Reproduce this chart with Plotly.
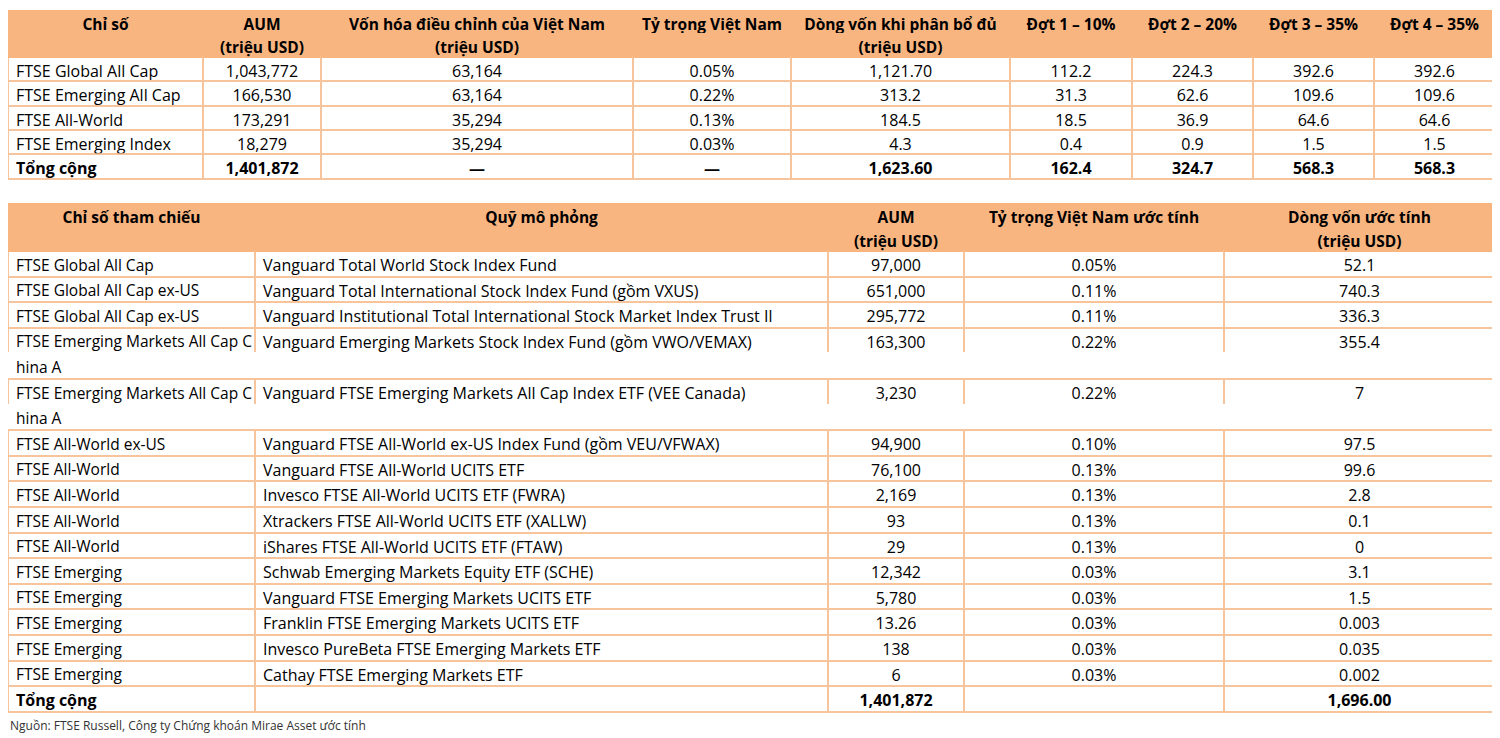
import plotly.graph_objects as go

# --- bảng 1: dòng vốn theo chỉ số (dòng cuối là Tổng cộng) ---
idx_names = ["FTSE Global All Cap", "FTSE Emerging All Cap", "FTSE All-World",
             "FTSE Emerging Index", "Tổng cộng"]
idx_aum = ["1,043,772", "166,530", "173,291", "18,279", "1,401,872"]
idx_mcap = ["63,164", "63,164", "35,294", "35,294", "—"]
idx_weight = ["0.05%", "0.22%", "0.13%", "0.03%", "—"]
idx_full = ["1,121.70", "313.2", "184.5", "4.3", "1,623.60"]
tranche1 = ["112.2", "31.3", "18.5", "0.4", "162.4"]
tranche2 = ["224.3", "62.6", "36.9", "0.9", "324.7"]
tranche3 = ["392.6", "109.6", "64.6", "1.5", "568.3"]
tranche4 = ["392.6", "109.6", "64.6", "1.5", "568.3"]

# tiêu đề 2 dòng: (dòng trên, dòng dưới)
headers1 = [("Chỉ số", ""), ("AUM", "(triệu USD)"),
            ("Vốn hóa điều chỉnh của Việt Nam", "(triệu USD)"),
            ("Tỷ trọng Việt Nam", ""), ("Dòng vốn khi phân bổ đủ", "(triệu USD)"),
            ("Đợt 1 – 10%", ""), ("Đợt 2 – 20%", ""), ("Đợt 3 – 35%", ""), ("Đợt 4 – 35%", "")]

# --- bảng 2: quỹ mô phỏng (ô bị ngắt dòng "C / hina A" tách thành dòng phụ) ---
ref_index = ["FTSE Global All Cap", "FTSE Global All Cap ex-US", "FTSE Global All Cap ex-US",
             "FTSE Emerging Markets All Cap C", "hina A",
             "FTSE Emerging Markets All Cap C", "hina A",
             "FTSE All-World ex-US", "FTSE All-World", "FTSE All-World", "FTSE All-World",
             "FTSE All-World", "FTSE Emerging", "FTSE Emerging", "FTSE Emerging",
             "FTSE Emerging", "FTSE Emerging", "Tổng cộng"]
funds = ["Vanguard Total World Stock Index Fund",
         "Vanguard Total International Stock Index Fund (gồm VXUS)",
         "Vanguard Institutional Total International Stock Market Index Trust II",
         "Vanguard Emerging Markets Stock Index Fund (gồm VWO/VEMAX)", "",
         "Vanguard FTSE Emerging Markets All Cap Index ETF (VEE Canada)", "",
         "Vanguard FTSE All-World ex-US Index Fund (gồm VEU/VFWAX)",
         "Vanguard FTSE All-World UCITS ETF",
         "Invesco FTSE All-World UCITS ETF (FWRA)",
         "Xtrackers FTSE All-World UCITS ETF (XALLW)",
         "iShares FTSE All-World UCITS ETF (FTAW)",
         "Schwab Emerging Markets Equity ETF (SCHE)",
         "Vanguard FTSE Emerging Markets UCITS ETF",
         "Franklin FTSE Emerging Markets UCITS ETF",
         "Invesco PureBeta FTSE Emerging Markets ETF",
         "Cathay FTSE Emerging Markets ETF",
         ""]
fund_aum = ["97,000", "651,000", "295,772", "163,300", "", "3,230", "", "94,900", "76,100",
            "2,169", "93", "29", "12,342", "5,780", "13.26", "138", "6", "1,401,872"]
fund_weight = ["0.05%", "0.11%", "0.11%", "0.22%", "", "0.22%", "", "0.10%", "0.13%", "0.13%",
               "0.13%", "0.13%", "0.03%", "0.03%", "0.03%", "0.03%", "0.03%", ""]
fund_flow = ["52.1", "740.3", "336.3", "355.4", "", "7", "", "97.5", "99.6", "2.8", "0.1", "0",
             "3.1", "1.5", "0.003", "0.035", "0.002", "1,696.00"]

headers2 = [("Chỉ số tham chiếu", ""), ("Quỹ mô phỏng", ""), ("AUM", "(triệu USD)"),
            ("Tỷ trọng Việt Nam ước tính", ""), ("Dòng vốn ước tính", "(triệu USD)")]

# dòng phụ (phần chữ bị ngắt) không có đường kẻ phía trên
continuation_rows = {4, 6}

# trang html có lề 8px quanh hình, nên hình nhỏ hơn cửa sổ 8px mỗi chiều
PAGE_PAD = 8
W, H = 1500 - PAGE_PAD, 738 - PAGE_PAD
HEAD_FILL = "#F9B580"
LINE = "#F7C49C"
FONT = "Open Sans"
NBSP = "\u00a0"
X_DOMAIN = [0, (1495 - PAGE_PAD) / W]


def nowrap(col):
    # plotly tự ngắt dòng ở dấu cách; dùng dấu cách không ngắt để giữ 1 dòng
    return [s.replace(" ", NBSP) for s in col]


def ydom(top_px, bottom_px):
    # toạ độ theo pixel của trang -> phân số của hình
    return [1 - (bottom_px - PAGE_PAD) / H, 1 - (top_px - PAGE_PAD) / H]


def add_table(fig, top, cols, headers, widths, aligns, head_h, row_h, col_sizes,
              line_colors=None):
    body = [c[:-1] for c in cols]
    total = [c[-1:] for c in cols]
    n_body = len(body[0])
    body_end = top + 2 * head_h + n_body * row_h
    fig.add_trace(go.Table(
        domain={"x": X_DOMAIN, "y": ydom(top, body_end + 4)},
        columnwidth=widths,
        header={
            "values": [nowrap(list(h)) for h in headers],
            "fill": {"color": HEAD_FILL},
            "line": {"color": HEAD_FILL, "width": 1},
            "font": {"family": FONT, "size": 15.5, "color": "black", "weight": "bold"},
            "align": "center",
            "height": head_h,
        },
        cells={
            "values": [nowrap(c) for c in body],
            "fill": {"color": "white"},
            "line": {"color": line_colors or LINE, "width": 2},
            "font": {"family": FONT, "size": col_sizes, "color": "black"},
            "align": aligns,
            "height": row_h,
        },
    ))
    # dòng Tổng cộng (in đậm)
    fig.add_trace(go.Table(
        domain={"x": X_DOMAIN, "y": ydom(body_end, body_end + row_h + 4)},
        columnwidth=widths,
        header={
            "values": [nowrap(c) for c in total],
            "fill": {"color": "white"},
            "line": {"color": LINE, "width": 2},
            "font": {"family": FONT, "size": 16, "color": "black", "weight": "bold"},
            "align": aligns,
            "height": row_h,
        },
        cells={"values": [[] for _ in cols], "height": row_h},
    ))


fig = go.Figure()

cols1 = [idx_names, idx_aum, idx_mcap, idx_weight, idx_full,
         tranche1, tranche2, tranche3, tranche4]
add_table(fig, 10, cols1, headers1,
          widths=[195, 118, 312, 158, 219, 122, 121, 121, 121],
          aligns=["left"] + ["center"] * 8,
          head_h=23.5, row_h=24.3, col_sizes=16)

cols2 = [ref_index, funds, fund_aum, fund_weight, fund_flow]
n_body2 = len(ref_index) - 1
line_colors2 = [["white" if r in continuation_rows else LINE for r in range(n_body2)]
                for _ in cols2]
add_table(fig, 203, cols2, headers2,
          widths=[247, 573, 136, 260, 271],
          aligns=["left", "left", "center", "center", "center"],
          head_h=24, row_h=25.6, col_sizes=[15.5, 16, 16, 16, 16],
          line_colors=line_colors2)

fig.add_annotation(
    text="Nguồn: FTSE Russell, Công ty Chứng khoán Mirae Asset ước tính",
    xref="paper", yref="paper", x=0, y=1 - (725 - PAGE_PAD) / H,
    xanchor="left", yanchor="middle", showarrow=False,
    font={"family": FONT, "size": 12, "color": "#333333"},
)

fig.update_layout(
    width=W,
    height=H,
    margin={"l": 0, "r": 0, "t": 0, "b": 0},
    paper_bgcolor="white",
    plot_bgcolor="white",
)

fig.write_html("out.html")
